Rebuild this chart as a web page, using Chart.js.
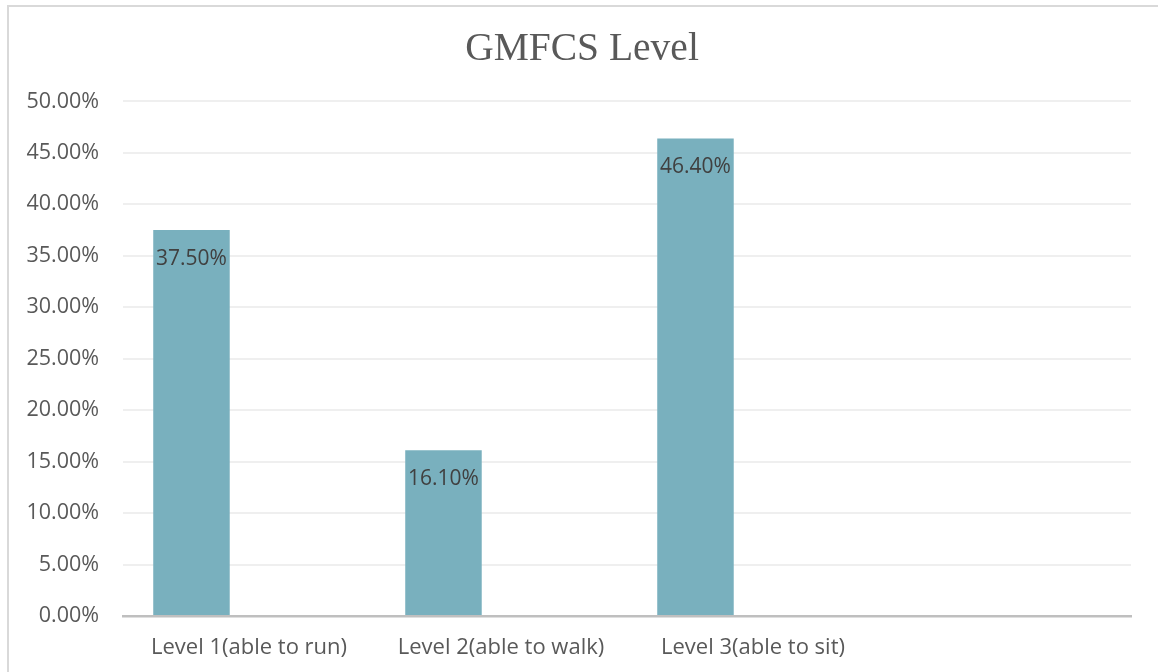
<!DOCTYPE html>
<html>
<head>
<meta charset="utf-8">
<script src="https://cdn.jsdelivr.net/npm/chart.js@4"></script>
<style>
  html, body { margin: 0; padding: 0; background: #ffffff; }
  #wrap { position: relative; width: 1158px; height: 672px; overflow: hidden; }
  #frame { position: absolute; left: 7px; top: 5px; width: 1200px; height: 720px;
           border-left: 2px solid #d9d9d9; border-top: 2px solid #d9d9d9; }
  canvas { position: absolute; left: 0; top: 0; }
</style>
</head>
<body>
<div id="wrap">
  <div id="frame"></div>
  <canvas id="c" width="1158" height="672"></canvas>
</div>
<script>
const chartTitle = 'GMFCS Level';
const categories = ['Level 1(able to run)', 'Level 2(able to walk)', 'Level 3(able to sit)', ''];
const seriesValues = [37.5, 16.1, 46.4, null];
const emptySeries = [null, null, null, null];
const yMin = 0, yMax = 50, yStep = 5;

const FONT = "'Open Sans', 'DejaVu Sans', sans-serif";

const valueLabels = {
  id: 'valueLabels',
  afterDatasetsDraw(chart) {
    const ctx = chart.ctx;
    const meta = chart.getDatasetMeta(0);
    ctx.save();
    ctx.font = '21px ' + FONT;
    ctx.fillStyle = '#404040';
    ctx.textAlign = 'center';
    ctx.textBaseline = 'middle';
    meta.data.forEach((bar, i) => {
      const v = chart.data.datasets[0].data[i];
      if (v == null) return;
      ctx.fillText(v.toFixed(2) + '%', bar.x, bar.y + 29);
    });
    ctx.restore();
  }
};

// the reference centres its title on the whole frame, not on the padded layout box
const titleShift = {
  id: 'titleShift',
  afterLayout(chart) {
    const t = chart.titleBlock;
    if (t) { t.left += 16.5; t.right += 16.5; }
  }
};

new Chart(document.getElementById('c'), {
  type: 'bar',
  data: {
    labels: categories,
    datasets: [
      { label: 'GMFCS Level', data: seriesValues, backgroundColor: '#79b0be',
        categoryPercentage: 0.913, barPercentage: 0.665 },
      { label: '', data: emptySeries, backgroundColor: '#79b0be',
        categoryPercentage: 0.913, barPercentage: 0.665 }
    ]
  },
  options: {
    responsive: false,
    animation: false,
    layout: { padding: { left: 0, right: 27, top: 0, bottom: 0 } },
    plugins: {
      legend: { display: false },
      tooltip: { enabled: false },
      title: {
        display: true,
        text: chartTitle,
        color: '#595959',
        font: { family: "'Liberation Serif', 'Times New Roman', serif", size: 39.5, weight: 'normal', lineHeight: 1.2 },
        padding: { top: 26, bottom: 28 }
      }
    },
    scales: {
      x: {
        grid: { display: false, drawTicks: false },
        border: { display: true, color: '#bfbfbf', width: 2.5 },
        ticks: { color: '#595959', font: { family: FONT, size: 22 }, padding: 19, maxRotation: 0, autoSkip: false },
        afterFit(scale) { scale.height = 56; }
      },
      y: {
        min: yMin, max: yMax,
        grid: { color: '#efefef', lineWidth: 2, drawTicks: false },
        border: { display: false },
        ticks: { stepSize: yStep, color: '#595959', font: { family: FONT, size: 21.5 }, padding: 24,
                 callback: v => v.toFixed(2) + '%' },
        afterFit(scale) { scale.width = 123; }
      }
    }
  },
  plugins: [valueLabels, titleShift]
});
</script>
</body>
</html>
